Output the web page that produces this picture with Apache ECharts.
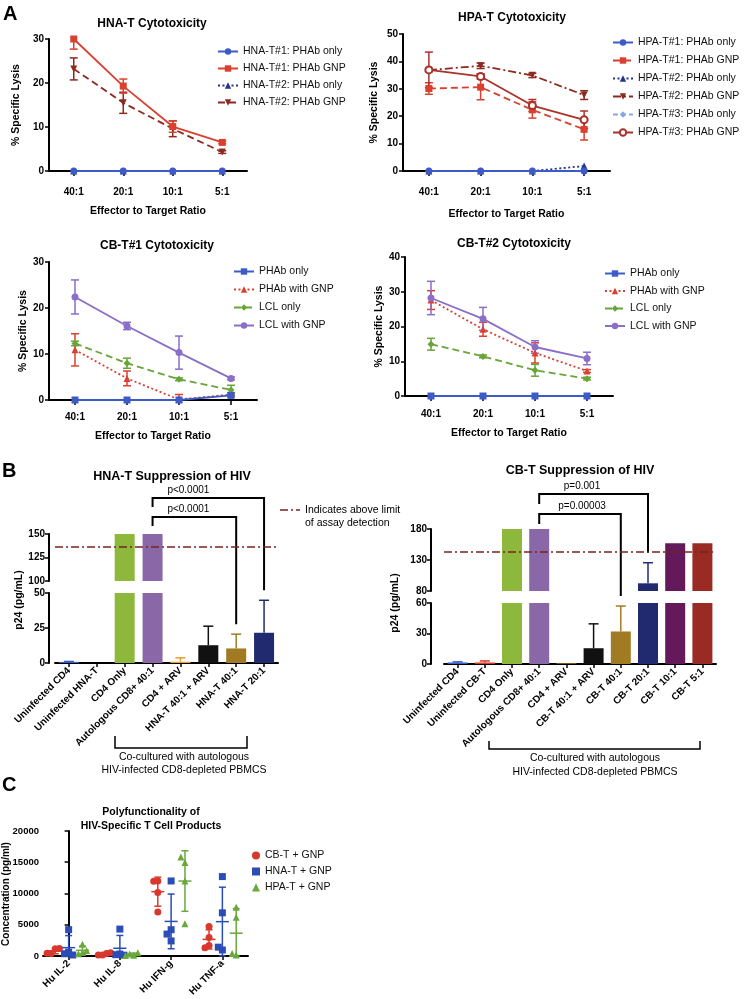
<!DOCTYPE html>
<html>
<head>
<meta charset="utf-8">
<script src="https://cdn.jsdelivr.net/npm/echarts@6/dist/echarts.min.js"></script>
<style>
html, body { margin: 0; padding: 0; background: #fff; }
#main { width: 744px; height: 999px; }
</style>
</head>
<body>
<div id="main"></div>
<script>
var FONT = 'Liberation Sans, Arial, Helvetica, sans-serif';

// ---- A: cytotoxicity (% specific lysis, mean and SD) ----
var ratios = ['40:1', '20:1', '10:1', '5:1'];

var hnaT1Only = [0, 0, 0, 0];
var hnaT1Gnp = [30.0, 19.3, 10.1, 6.5];
var hnaT1GnpSd = [2.3, 1.6, 1.3, 0.3];
var hnaT2Only = [0, 0, 0, 0];
var hnaT2Gnp = [23.2, 15.5, 9.6, 4.3];
var hnaT2GnpSd = [2.5, 2.4, 1.8, 0.3];

var hpaT1Only = [0, 0, 0, 0];
var hpaT1Gnp = [30.1, 30.6, 22.3, 15.2];
var hpaT1GnpSd = [2.1, 4.6, 3.0, 3.9];
var hpaT2Only = [0, 0, 0, 1.8];
var hpaT2Gnp = [36.8, 38.4, 34.9, 27.7];
var hpaT2GnpSd = [0.6, 1.0, 0.8, 1.6];
var hpaT3Only = [0, 0, 0, 0];
var hpaT3Gnp = [36.9, 34.5, 23.9, 18.7];
var hpaT3GnpSd = [6.5, 1.0, 2.2, 3.2];

var cb1PhabOnly = [0, 0, 0, 1.0];
var cb1PhabGnp = [10.9, 4.7, 0.1, 1.2];
var cb1PhabGnpSd = [3.5, 1.6, 1.1, 0.4];
var cb1LclOnly = [12.3, 8.0, 4.5, 2.2];
var cb1LclOnlySd = [0.5, 1.1, 0.3, 1.0];
var cb1LclGnp = [22.4, 16.1, 10.3, 4.7];
var cb1LclGnpSd = [3.7, 0.8, 3.6, 0.3];

var cb2PhabOnly = [0, 0, 0, 0];
var cb2PhabGnp = [27.6, 19.2, 12.4, 7.2];
var cb2PhabGnpSd = [2.7, 2.0, 2.9, 0.4];
var cb2LclOnly = [14.9, 11.4, 7.4, 5.0];
var cb2LclOnlySd = [1.7, 0.4, 1.7, 0.4];
var cb2LclGnp = [28.2, 22.2, 14.1, 10.8];
var cb2LclGnpSd = [4.8, 3.3, 1.8, 1.8];

// ---- B: p24 (pg/mL), broken axis ----
var hnaCats = ['Uninfected CD4', 'Uninfected HNA-T', 'CD4 Only', 'Autologous CD8+ 40:1', 'CD4 + ARV', 'HNA-T 40:1 + ARV', 'HNA-T 40:1', 'HNA-T 20:1'];
var hnaP24 = [0.8, 0, 150, 150, 0.9, 12.7, 10.4, 21.6];
var hnaP24Err = [0.3, 0, 0, 0, 2.8, 13.6, 10.2, 23.2];
var hnaColors = ['#3b5bc6', '#d63c2e', '#8db83b', '#8a68a8', '#e6a028', '#111111', '#a07b24', '#212a6f'];

var cbCats = ['Uninfected CD4', 'Uninfected CB-T', 'CD4 Only', 'Autologous CD8+ 40:1', 'CD4 + ARV', 'CB-T 40:1 + ARV', 'CB-T 40:1', 'CB-T 20:1', 'CB-T 10:1', 'CB-T 5:1'];
var cbP24 = [1.5, 1.5, 180, 180, 0.5, 15.5, 32, 92.4, 157, 157];
var cbP24Err = [0.6, 1.5, 0, 0, 0, 24, 25, 33.2, 0, 0];
var cbColors = ['#3b5bc6', '#d63c2e', '#8db83b', '#8a68a8', '#e6a028', '#111111', '#a07b24', '#212a6f', '#641a5a', '#9a2b23'];

var hnaLimit = 136.5;
var cbLimit = 143;
var hnaBrackets = [{ from: 3, to: 7, label: 'p<0.0001', level: 2 }, { from: 3, to: 6, label: 'p<0.0001', level: 1 }];
var cbBrackets = [{ from: 3, to: 7, label: 'p=0.001', level: 2 }, { from: 3, to: 6, label: 'p=0.00003', level: 1 }];

// ---- C: cytokines (pg/ml), individual values ----
var cytokines = ['Hu IL-2', 'Hu IL-8', 'Hu IFN-g', 'Hu TNF-a'];
var cbtGnp = [[1150, 380, 1200, 420], [370, 160, 520, 160], [12000, 11950, 10150, 7050], [4700, 2950, 1650, 1300]];
var hnatGnp = [[4200, 600, 350, 150], [4300, 300, 200, 120], [12000, 4200, 2400, 3500], [12700, 6900, 950, 1400]];
var hpatGnp = [[1850, 550, 350, 850], [100, 300, 520, 80], [14950, 15850, 12000, 5150], [7800, 6200, 150, 400]];

// ---------------------------------------------------------------
var chart = echarts.init(document.getElementById('main'));

function errBar(params, api) {
  var x = api.value(0), lo = api.value(1), hi = api.value(2), capLow = api.value(3);
  if (!(hi > lo)) return null;
  var a = api.coord([x, hi]), b = api.coord([x, lo]);
  var c = api.visual('color'), w = params.seriesName === 'berr' ? 5 : 4;
  var kids = [
    { type: 'line', shape: { x1: a[0], y1: a[1], x2: b[0], y2: b[1] }, style: { stroke: c, lineWidth: 1.5 } },
    { type: 'line', shape: { x1: a[0] - w, y1: a[1], x2: a[0] + w, y2: a[1] }, style: { stroke: c, lineWidth: 1.5 } }
  ];
  if (capLow) kids.push({ type: 'line', shape: { x1: b[0] - w, y1: b[1], x2: b[0] + w, y2: b[1] }, style: { stroke: c, lineWidth: 1.5 } });
  return { type: 'group', children: kids };
}

function meanSd(params, api) {
  var x = api.value(0), m = api.value(1), sd = api.value(2);
  var p = api.coord([x, m]), a = api.coord([x, m + sd]), b = api.coord([x, Math.max(0, m - sd)]);
  var c = api.visual('color');
  function ln(x1, y1, x2, y2) { return { type: 'line', shape: { x1: x1, y1: y1, x2: x2, y2: y2 }, style: { stroke: c, lineWidth: 1.5 } }; }
  return { type: 'group', children: [
    ln(a[0], a[1], b[0], b[1]), ln(a[0] - 3.5, a[1], a[0] + 3.5, a[1]), ln(b[0] - 3.5, b[1], b[0] + 3.5, b[1]),
    ln(p[0] - 6.5, p[1], p[0] + 6.5, p[1])
  ] };
}

var series = [];
var DOWN = 'path://M0,0L2,0L1,1.75Z';

function addLine(g, name, data, color, symbol, dash, sd) {
  series.push({
    type: 'line', name: name, xAxisIndex: g, yAxisIndex: g, data: data,
    symbol: symbol, symbolSize: 7, clip: false, animation: false,
    itemStyle: { color: color, borderWidth: symbol === 'emptyCircle' ? 1.6 : 0 },
    lineStyle: { color: color, width: 1.8, type: dash }
  });
  if (sd) {
    series.push({
      type: 'custom', name: 'err', xAxisIndex: g, yAxisIndex: g, renderItem: errBar, clip: true,
      silent: true, animation: false, itemStyle: { color: color }, z: 1,
      data: data.map(function (m, i) { return [i, m - sd[i], m + sd[i], 1]; })
    });
  }
}

var BLUE = '#3d5bc6', RED = '#d9402f', DRED = '#8c2a20', MRED = '#a9322a', NAVY = '#27348f', LBLUE = '#86a8e6', GREEN = '#69a438', PURPLE = '#8b6ec8';
var DOT = [2, 2.5], DASH = [7, 4], DASHDOT = [8, 3, 2, 3];

// A1 HNA-T
addLine(0, 'HNA-T#2: PHAb only', hnaT2Only, NAVY, 'triangle', DOT);
addLine(0, 'HNA-T#2: PHAb GNP', hnaT2Gnp, DRED, DOWN, DASH, hnaT2GnpSd);
addLine(0, 'HNA-T#1: PHAb GNP', hnaT1Gnp, RED, 'rect', 'solid', hnaT1GnpSd);
addLine(0, 'HNA-T#1: PHAb only', hnaT1Only, BLUE, 'circle', 'solid');
// A2 HPA-T
addLine(1, 'HPA-T#2: PHAb only', hpaT2Only, NAVY, 'triangle', DOT);
addLine(1, 'HPA-T#3: PHAb only', hpaT3Only, LBLUE, 'diamond', [5, 3]);
addLine(1, 'HPA-T#2: PHAb GNP', hpaT2Gnp, DRED, DOWN, DASHDOT, hpaT2GnpSd);
addLine(1, 'HPA-T#1: PHAb GNP', hpaT1Gnp, RED, 'rect', DASH, hpaT1GnpSd);
addLine(1, 'HPA-T#3: PHAb GNP', hpaT3Gnp, MRED, 'emptyCircle', 'solid', hpaT3GnpSd);
addLine(1, 'HPA-T#1: PHAb only', hpaT1Only, BLUE, 'circle', 'solid');
// A3 CB-T#1
addLine(2, 'PHAb with GNP', cb1PhabGnp, RED, 'triangle', DOT, cb1PhabGnpSd);
addLine(2, 'LCL only', cb1LclOnly, GREEN, 'diamond', DASH, cb1LclOnlySd);
addLine(2, 'LCL with GNP', cb1LclGnp, PURPLE, 'circle', 'solid', cb1LclGnpSd);
addLine(2, 'PHAb only', cb1PhabOnly, BLUE, 'rect', 'solid');
// A4 CB-T#2
addLine(3, 'PHAb with GNP', cb2PhabGnp, RED, 'triangle', DOT, cb2PhabGnpSd);
addLine(3, 'LCL only', cb2LclOnly, GREEN, 'diamond', DASH, cb2LclOnlySd);
addLine(3, 'LCL with GNP', cb2LclGnp, PURPLE, 'circle', 'solid', cb2LclGnpSd);
addLine(3, 'PHAb only', cb2PhabOnly, BLUE, 'rect', 'solid');

// B bars: upper and lower segment of each broken axis
function addBars(gUp, gLo, vals, errs, colors, limit) {
  var items = vals.map(function (v, i) { return { value: v, itemStyle: { color: colors[i] } }; });
  [gUp, gLo].forEach(function (g) {
    var s = {
      type: 'bar', name: 'bars' + g, xAxisIndex: g, yAxisIndex: g, data: items, barWidth: 20,
      clip: true, animation: false, silent: true
    };
    if (g === gUp) {
      s.markLine = {
        silent: true, symbol: 'none', label: { show: false }, animation: false,
        lineStyle: { color: '#7a2222', width: 1.5, type: DASHDOT },
        data: [{ yAxis: limit }]
      };
    }
    series.push(s);
    series.push({
      type: 'custom', name: 'berr', xAxisIndex: g, yAxisIndex: g, renderItem: errBar, clip: true,
      silent: true, animation: false, z: 3,
      data: vals.map(function (v, i) {
        return { value: [i, v, v + errs[i], 0], itemStyle: { color: colors[i] } };
      }).filter(function (d, i) { return errs[i] > 0; })
    });
  });
}
addBars(4, 5, hnaP24, hnaP24Err, hnaColors, hnaLimit);
addBars(6, 7, cbP24, cbP24Err, cbColors, cbLimit);

// C dot plot
function mean(a) { return a.reduce(function (s, v) { return s + v; }, 0) / a.length; }
function sdev(a) { var m = mean(a); return Math.sqrt(a.reduce(function (s, v) { return s + (v - m) * (v - m); }, 0) / (a.length - 1)); }
function spread(vals) {
  // nudge points sideways when they would overlap
  var placed = [], steps = [0, -0.08, 0.08, -0.16, 0.16];
  return vals.map(function (v) {
    for (var k = 0; k < steps.length; k++) {
      var ok = placed.every(function (p) { return Math.abs(p.v - v) > 900 || Math.abs(p.o - steps[k]) > 0.07; });
      if (ok) { placed.push({ v: v, o: steps[k] }); return steps[k]; }
    }
    return 0;
  });
}
var cGroups = [
  { name: 'CB-T + GNP', vals: cbtGnp, color: '#d8392c', symbol: 'circle', off: -0.26 },
  { name: 'HNA-T + GNP', vals: hnatGnp, color: '#2c4db5', symbol: 'rect', off: 0 },
  { name: 'HPA-T + GNP', vals: hpatGnp, color: '#69a83a', symbol: 'triangle', off: 0.27 }
];
cGroups.forEach(function (grp) {
  var pts = [];
  grp.vals.forEach(function (arr, i) {
    var js = spread(arr);
    arr.forEach(function (v, j) { pts.push([i + grp.off + js[j], v]); });
  });
  series.push({
    type: 'scatter', name: grp.name, xAxisIndex: 9, yAxisIndex: 8, data: pts,
    symbol: grp.symbol, symbolSize: 7, itemStyle: { color: grp.color, opacity: 1 }, animation: false, z: 2
  });
  series.push({
    type: 'custom', name: 'msd', xAxisIndex: 9, yAxisIndex: 8, renderItem: meanSd, silent: true,
    animation: false, itemStyle: { color: grp.color }, z: 3,
    data: grp.vals.map(function (arr, i) { return [i + grp.off, mean(arr), sdev(arr)]; })
  });
});

// ---- axes ----
var AXLINE = { show: true, lineStyle: { color: '#000', width: 2 } };
var TICK = { show: true, length: 4, lineStyle: { color: '#000', width: 1.5 } };
var LBL = { color: '#000', fontSize: 10, fontWeight: 'bold', fontFamily: FONT };
var NAME = { color: '#000', fontSize: 10.5, fontWeight: 'bold', fontFamily: FONT };

var grids = [
  { left: 49, top: 39, width: 198, height: 132 },
  { left: 403, top: 34, width: 207, height: 137 },
  { left: 49, top: 262, width: 208, height: 138 },
  { left: 405, top: 257, width: 208, height: 139 },
  { left: 55, top: 534, width: 223, height: 47 },
  { left: 55, top: 593, width: 223, height: 70 },
  { left: 444, top: 529, width: 272, height: 62 },
  { left: 444, top: 603, width: 272, height: 61 },
  { left: 43, top: 831, width: 205, height: 126 }
];

function ratioAxis(g, margin, gap) {
  return {
    type: 'category', gridIndex: g, data: ratios, axisLine: AXLINE,
    axisTick: { show: true, length: 5, alignWithLabel: true, lineStyle: { color: '#000', width: 1.5 } },
    axisLabel: Object.assign({ margin: margin, interval: 0 }, LBL),
    name: 'Effector to Target Ratio', nameLocation: 'middle', nameGap: gap, nameTextStyle: NAME
  };
}
function lysisAxis(g, max, gap) {
  return {
    type: 'value', gridIndex: g, min: 0, max: max, interval: 10, axisLine: AXLINE, axisTick: TICK,
    splitLine: { show: false }, axisLabel: Object.assign({ margin: 5 }, LBL),
    name: '% Specific Lysis', nameLocation: 'middle', nameGap: gap, nameTextStyle: NAME
  };
}
function barAxis(g, cats, show) {
  return {
    type: 'category', gridIndex: g, data: cats, show: show, axisLine: AXLINE,
    axisTick: { show: true, length: 4, alignWithLabel: true, lineStyle: { color: '#000', width: 1.5 } },
    axisLabel: Object.assign({ rotate: 45, margin: 6, interval: 0 }, LBL)
  };
}
function p24Axis(g, min, max, ticks, offset) {
  return {
    type: 'value', gridIndex: g, min: min, max: max, offset: offset, axisLine: AXLINE,
    axisTick: { show: true, length: 4, customValues: ticks, lineStyle: { color: '#000', width: 1.5 } },
    splitLine: { show: false }, axisLabel: Object.assign({ margin: 4, customValues: ticks }, LBL)
  };
}

var xAxes = [
  ratioAxis(0, 16, 35), ratioAxis(1, 16, 38), ratioAxis(2, 12, 31), ratioAxis(3, 13, 32),
  barAxis(4, hnaCats, false), barAxis(5, hnaCats, true),
  barAxis(6, cbCats, false), barAxis(7, cbCats, true),
  {
    type: 'category', gridIndex: 8, data: cytokines, axisLine: AXLINE,
    axisTick: { show: true, length: 4, alignWithLabel: true, lineStyle: { color: '#000', width: 1.5 } },
    axisLabel: Object.assign({ rotate: 45, margin: 6, interval: 0 }, LBL)
  },
  { type: 'value', gridIndex: 8, min: -0.5, max: 3.5, show: false }
];
var yAxes = [
  lysisAxis(0, 30, 27), lysisAxis(1, 50, 23), lysisAxis(2, 30, 19), lysisAxis(3, 40, 20),
  p24Axis(4, 100, 150, [100, 125, 150], 6), p24Axis(5, 0, 50, [0, 25, 50], 6),
  p24Axis(6, 80, 180, [80, 130, 180], 13), p24Axis(7, 0, 60, [0, 30, 60], 13),
  {
    type: 'value', gridIndex: 8, min: 0, max: 20000, interval: 5000, axisLine: AXLINE, axisTick: TICK,
    splitLine: { show: false },
    axisLabel: Object.assign({ margin: 4, formatter: function (v) { return String(v); } }, LBL, { fontSize: 9.5 })
  }
];

function title(text, x, y, size) {
  return {
    text: text, left: x, top: y, textAlign: 'center',
    textStyle: { fontFamily: FONT, fontWeight: 'bold', fontSize: size || 12, color: '#000', lineHeight: 14 }
  };
}

function legend(names, x, y, gap, w, h) {
  return {
    data: names, left: x, top: y, orient: 'vertical', itemGap: gap, itemWidth: w || 20, itemHeight: h || 8,
    selectedMode: false, padding: 0,
    textStyle: { fontFamily: FONT, fontSize: 10.5, color: '#111' }
  };
}

var option = {
  animation: false,
  backgroundColor: '#fff',
  title: [
    title('HNA-T Cytotoxicity', 147, 12), title('HPA-T Cytotoxicity', 507, 6),
    title('CB-T#1 Cytotoxicity', 152, 234), title('CB-T#2 Cytotoxicity', 509, 232),
    title('HNA-T Suppression of HIV', 167, 465, 12.5), title('CB-T Suppression of HIV', 575, 459, 12.5),
    title('Polyfunctionality of\nHIV-Specific T Cell Products', 146, 800, 10.5)
  ],
  legend: [
    legend(['HNA-T#1: PHAb only', 'HNA-T#1: PHAb GNP', 'HNA-T#2: PHAb only', 'HNA-T#2: PHAb GNP'], 217, 46, 6),
    legend(['HPA-T#1: PHAb only', 'HPA-T#1: PHAb GNP', 'HPA-T#2: PHAb only', 'HPA-T#2: PHAb GNP', 'HPA-T#3: PHAb only', 'HPA-T#3: PHAb GNP'], 612, 37, 7),
    legend(['PHAb only', 'PHAb with GNP', 'LCL only', 'LCL with GNP'], 233, 266, 7),
    legend(['PHAb only', 'PHAb with GNP', 'LCL only', 'LCL with GNP'], 604, 268, 6.5),
    legend(['CB-T + GNP', 'HNA-T + GNP', 'HPA-T + GNP'], 252, 850, 5, 8, 8)
  ],
  grid: grids,
  xAxis: xAxes,
  yAxis: yAxes,
  series: series
};
chart.setOption(option);

// ---- annotations: panel letters, brackets, notes ----
var gfx = [];
function txt(x, y, s, opt) {
  opt = opt || {};
  gfx.push({
    type: 'text', x: x, y: y, rotation: opt.rot || 0, silent: true,
    style: {
      text: s, fill: '#000', fontFamily: FONT, fontSize: opt.size || 10, fontWeight: opt.bold ? 'bold' : 'normal',
      align: opt.align || 'center', verticalAlign: opt.valign || 'middle',
      textAlign: opt.align || 'center', textVerticalAlign: opt.valign || 'middle', lineHeight: opt.lh || 13
    }
  });
}
function poly(pts, w) {
  gfx.push({ type: 'polyline', silent: true, shape: { points: pts }, style: { stroke: '#000', lineWidth: w || 2, fill: null } });
}

txt(3, 14, 'A', { size: 20, bold: true, align: 'left' });
txt(2, 471, 'B', { size: 20, bold: true, align: 'left' });
txt(2, 785, 'C', { size: 20, bold: true, align: 'left' });

txt(19, 600, 'p24 (pg/mL)', { rot: Math.PI / 2, bold: true, size: 10.5 });
txt(395, 603, 'p24 (pg/mL)', { rot: Math.PI / 2, bold: true, size: 10.5 });
txt(6, 894, 'Concentration (pg/ml)', { rot: Math.PI / 2, bold: true, size: 10 });

function brackets(list, gUp, gLo, vals, errs, lowMax, upMax, hi, lo, legUp, textX) {
  list.forEach(function (b) {
    var x1 = chart.convertToPixel({ gridIndex: gLo }, [b.from, 0])[0];
    var x2 = chart.convertToPixel({ gridIndex: gLo }, [b.to, 0])[0];
    var topY = chart.convertToPixel({ gridIndex: gUp }, [b.from, Math.min(vals[b.from], upMax)])[1];
    var by = topY - (b.level === 2 ? hi : lo);
    var tip = vals[b.to] + errs[b.to];
    var tipY = chart.convertToPixel({ gridIndex: tip <= lowMax ? gLo : gUp }, [b.to, tip])[1];
    poly([[x1, by + legUp], [x1, by], [x2, by], [x2, tipY - 10]]);
    txt(textX, by - 8, b.label, { size: 10 });
  });
}
var hx = (chart.convertToPixel({ gridIndex: 5 }, [3, 0])[0] + chart.convertToPixel({ gridIndex: 5 }, [6, 0])[0]) / 2 - 6;
var cx = (chart.convertToPixel({ gridIndex: 7 }, [3, 0])[0] + chart.convertToPixel({ gridIndex: 7 }, [6, 0])[0]) / 2 + 2;
brackets(hnaBrackets, 4, 5, hnaP24, hnaP24Err, 50, 150, 36, 17, 9, hx);
brackets(cbBrackets, 6, 7, cbP24, cbP24Err, 60, 180, 35, 15, 10, cx);

// co-culture brackets under the category labels
poly([[115, 736], [115, 748], [247, 748], [247, 736]], 1.5);
txt(184, 757, 'Co-cultured with autologous', { size: 10.5 });
txt(184, 770, 'HIV-infected CD8-depleted PBMCS', { size: 10.5 });
poly([[489, 741], [489, 749], [700, 749], [700, 741]], 1.5);
txt(595, 758, 'Co-cultured with autologous', { size: 10.5 });
txt(595, 772, 'HIV-infected CD8-depleted PBMCS', { size: 10.5 });

// assay limit key
gfx.push({ type: 'line', silent: true, shape: { x1: 280, y1: 510, x2: 300, y2: 510 }, style: { stroke: '#7a2222', lineWidth: 1.5, lineDash: DASHDOT } });
txt(305, 510, 'Indicates above limit', { size: 10.5, align: 'left' });
txt(305, 523, 'of assay detection', { size: 10.5, align: 'left' });

chart.setOption({ graphic: gfx });
</script>
</body>
</html>
